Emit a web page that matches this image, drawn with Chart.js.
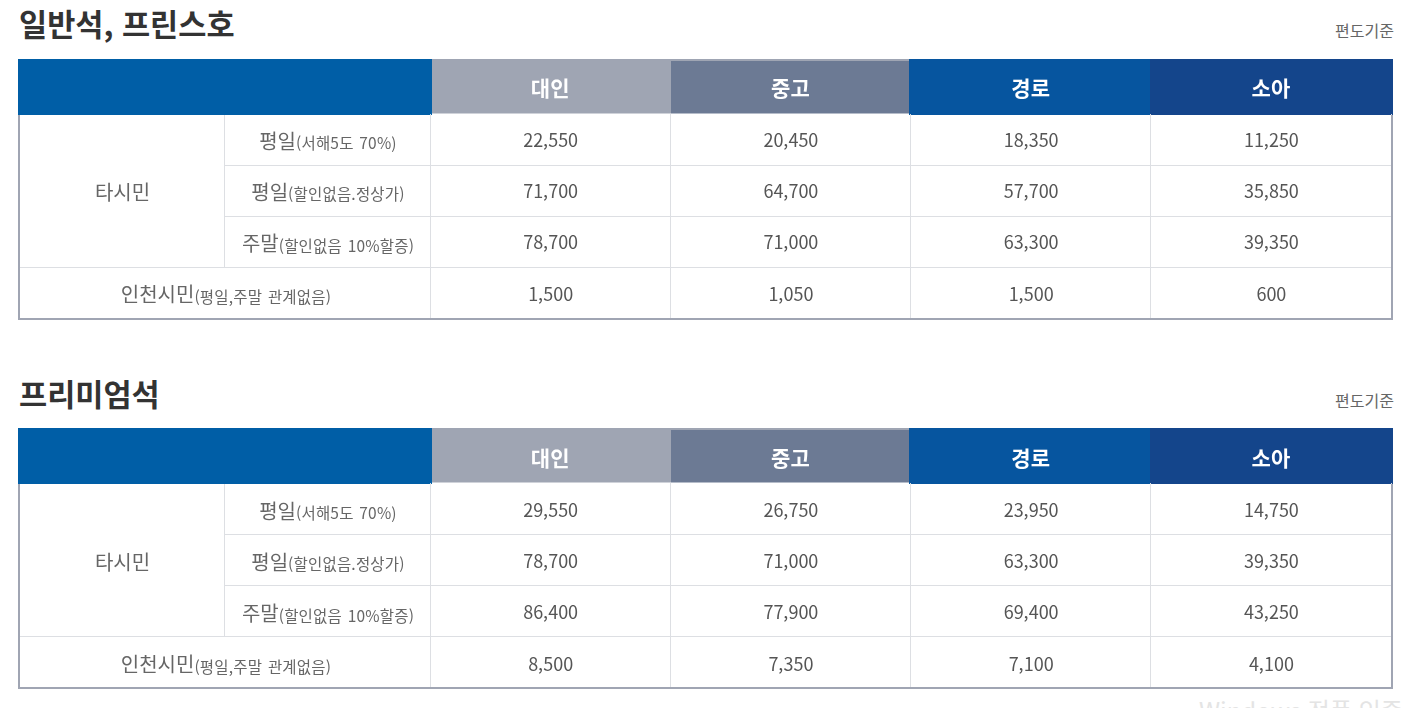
<!DOCTYPE html>
<html lang="ko">
<head>
<meta charset="utf-8">
<title>요금표</title>
<script src="https://cdn.jsdelivr.net/npm/chart.js@4/dist/chart.umd.min.js"></script>
<style>
  html, body { margin: 0; height: 100%; background: #fff; overflow: hidden; }
  body { position: relative; width: 1410px; height: 708px; font-family: "Noto Sans CJK KR", "Noto Sans", sans-serif; }
  h2 { position: absolute; left: 19px; margin: 0; font-size: 30.6px; line-height: 44px; font-weight: 700; color: #333; white-space: nowrap; }
  .note { position: absolute; right: 16px; font-size: 16px; line-height: 24px; color: #666; }
  canvas { position: absolute; left: 0; }
  .mark { position: absolute; left: 1199px; top: 693px; font-size: 24px; line-height: 34px; color: #e4e4e4; white-space: nowrap; }
</style>
</head>
<body>
<h2 style="top:1px">일반석, 프린스호</h2>
<div class="note" style="top:18px">편도기준</div>
<canvas id="table1" width="1410" height="262" style="top:59px"></canvas>

<h2 style="top:371px">프리미엄석</h2>
<div class="note" style="top:388px">편도기준</div>
<canvas id="table2" width="1410" height="262" style="top:428px"></canvas>

<div class="mark">Windows 정품 인증</div>

<script>
// fare table
const columns = ['대인', '중고', '경로', '소아'];
const rowLabels = ['평일(서해5도 70%)', '평일(할인없음.정상가)', '주말(할인없음 10%할증)', '인천시민(평일,주말 관계없음)'];
const groupLabel = '타시민';

const economyAdult = [22550, 71700, 78700, 1500];
const economyYouth = [20450, 64700, 71000, 1050];
const economySenior = [18350, 57700, 63300, 1500];
const economyChild = [11250, 35850, 39350, 600];

const premiumAdult = [29550, 78700, 86400, 8500];
const premiumYouth = [26750, 71000, 77900, 7350];
const premiumSenior = [23950, 63300, 69400, 7100];
const premiumChild = [14750, 39350, 43250, 4100];

// styles
const headerColors = ['#9fa5b3', '#6c7a94', '#06559f', '#14458b'];
const headerBlue = '#005ea6';
const lineColor = '#dddfe3';
const borderColor = '#a0a5b3';
const textColor = '#555';
const labelColor = '#666';
const fontName = '"Noto Sans CJK KR", "Noto Sans", sans-serif';

const sideLeft = 18;     // left edge of the table
const sideSplit = 224.5; // line between 타시민 and the day column
const headerHeight = 56;

// main text + smaller text in brackets, centred on cx
function drawSplitLabel(ctx, label, cx, cy) {
    const cut = label.indexOf('(');
    const main = label.slice(0, cut);
    const sub = label.slice(cut);
    ctx.letterSpacing = '0px';
    ctx.wordSpacing = '0px';
    ctx.font = '20px ' + fontName;
    const mainW = ctx.measureText(main).width;
    ctx.font = '15.5px ' + fontName;
    ctx.letterSpacing = '0.2px';
    ctx.wordSpacing = '2px';
    const subW = ctx.measureText(sub).width;
    let x = cx - (mainW + subW) / 2;
    ctx.textAlign = 'left';
    ctx.textBaseline = 'middle';
    ctx.fillStyle = labelColor;
    ctx.fillText(sub, x + mainW, cy + 2);
    ctx.letterSpacing = '0px';
    ctx.wordSpacing = '0px';
    ctx.font = '20px ' + fontName;
    ctx.fillText(main, x, cy);
}

const tablePlugin = {
    id: 'tablePlugin',
    // header band goes under the axis labels
    beforeDraw(chart) {
        const ctx = chart.ctx;
        const x = chart.scales.x;
        const half = (x.getPixelForValue(1) - x.getPixelForValue(0)) / 2;
        const nudge = [2, 0.75, -1.5, -0.75, 2];
        ctx.save();
        ctx.fillStyle = headerBlue;
        ctx.fillRect(sideLeft, 0, x.left + nudge[0] - sideLeft, headerHeight);
        headerColors.forEach((color, i) => {
            const c = x.getPixelForValue(i);
            const l = c - half + nudge[i];
            const r = c + half + nudge[i + 1];
            const h = i < 2 ? headerHeight - 1.5 : headerHeight;
            ctx.fillStyle = color;
            ctx.fillRect(l, 0, r - l, h);
            if (i === 1) {
                ctx.fillStyle = headerColors[0];
                ctx.fillRect(l, 0, r - l, 2);
            }
        });
        ctx.restore();
    },
    afterDatasetsDraw(chart, args, opts) {
        const ctx = chart.ctx;
        const { x, y } = chart.scales;
        const area = chart.chartArea;
        const rowH = y.getPixelForValue(1) - y.getPixelForValue(0);
        const drop = opts.textDrop;
        ctx.save();

        // row lines and splits in the label area
        ctx.strokeStyle = lineColor;
        ctx.lineWidth = 1;
        ctx.beginPath();
        ctx.moveTo(sideSplit, area.top + 1);
        ctx.lineTo(sideSplit, area.top + rowH * 3);
        for (let i = 1; i <= 3; i++) {
            const py = Math.floor(area.top + rowH * i) + 0.5;
            ctx.moveTo(i === 3 ? sideLeft : sideSplit, py);
            ctx.lineTo(area.left, py);
        }
        ctx.stroke();

        // outer border
        ctx.strokeStyle = borderColor;
        ctx.lineWidth = 2;
        ctx.beginPath();
        ctx.moveTo(sideLeft + 1, headerHeight);
        ctx.lineTo(sideLeft + 1, area.bottom);
        ctx.lineTo(area.right + 1, area.bottom);
        ctx.lineTo(area.right + 1, headerHeight);
        ctx.stroke();

        // row labels
        for (let i = 0; i < 3; i++) {
            drawSplitLabel(ctx, rowLabels[i], 328, y.getPixelForValue(i) + drop + 1);
        }
        drawSplitLabel(ctx, rowLabels[3], 226, y.getPixelForValue(3) + drop + 1);
        ctx.font = '20px ' + fontName;
        ctx.fillStyle = labelColor;
        ctx.textAlign = 'center';
        ctx.textBaseline = 'middle';
        ctx.fillText(groupLabel, 122.5, y.getPixelForValue(1) + drop + 1);

        // the fares
        ctx.font = '18px ' + fontName;
        ctx.fillStyle = textColor;
        chart.data.datasets.forEach((ds, d) => {
            chart.getDatasetMeta(d).data.forEach((pt, i) => {
                ctx.fillText(ds.data[i].v.toLocaleString('en-US'), pt.x + 0.5, pt.y + drop);
            });
        });
        ctx.restore();
    }
};

function makeTable(id, seriesList, textDrop, headPad) {
    return new Chart(document.getElementById(id), {
        type: 'scatter',
        plugins: [tablePlugin],
        data: {
            datasets: seriesList.map((vals, c) => ({
                label: columns[c],
                data: vals.map((v, r) => ({ x: columns[c], y: rowLabels[r], v: v })),
                pointRadius: 0
            }))
        },
        options: {
            responsive: false,
            animation: false,
            events: [],
            layout: { padding: { left: sideLeft, right: 19, top: 0, bottom: 2 } },
            plugins: {
                legend: { display: false },
                title: { display: false },
                tooltip: { enabled: false },
                tablePlugin: { textDrop: textDrop }
            },
            scales: {
                x: {
                    type: 'category',
                    labels: columns,
                    position: 'top',
                    offset: true,
                    afterFit(scale) { scale.height = headerHeight - 1; },
                    grid: { offset: true, color: lineColor, drawTicks: false },
                    border: { display: false },
                    ticks: {
                        color: '#fff',
                        padding: headPad,
                        maxRotation: 0,
                        font: { family: fontName, size: 21, weight: 'bold' }
                    }
                },
                y: {
                    type: 'category',
                    labels: rowLabels,
                    offset: true,
                    afterFit(scale) { scale.width = 412; },
                    grid: {
                        offset: true,
                        drawTicks: false,
                        color: (c) => (c.index === 0 ? 'transparent' : lineColor)
                    },
                    border: { display: false },
                    ticks: { display: false }
                }
            }
        }
    });
}

makeTable('table1', [economyAdult, economyYouth, economySenior, economyChild], 0.5, 13);
makeTable('table2', [premiumAdult, premiumYouth, premiumSenior, premiumChild], 1.5, 12);
</script>
</body>
</html>
